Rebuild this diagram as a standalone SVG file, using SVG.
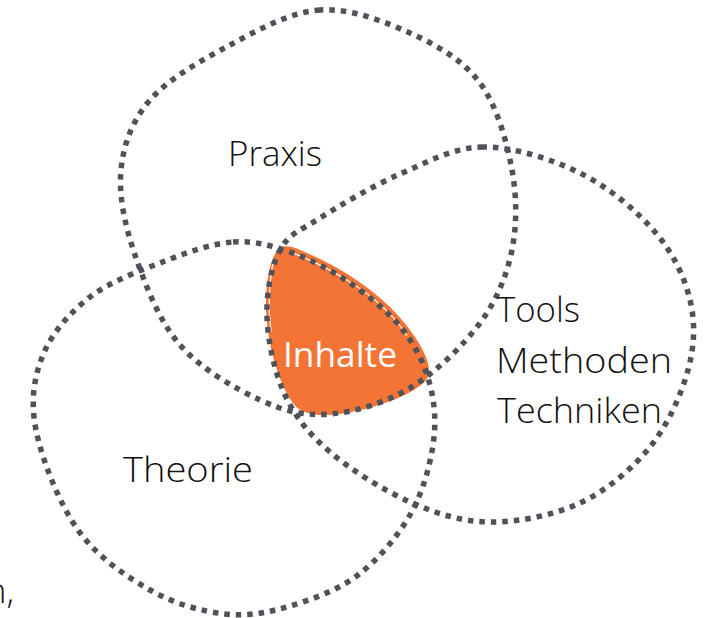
<svg xmlns="http://www.w3.org/2000/svg" width="710" height="618" viewBox="0 0 710 618">
<style>
.blob{fill:none;stroke:#4f5258;stroke-width:5.5;stroke-dasharray:5.5 6}
.lbl{font-family:"Open Sans","Noto Sans","Liberation Sans",sans-serif;font-weight:300;font-size:35px;fill:#111}
.in{font-family:"Open Sans","Noto Sans","Liberation Sans",sans-serif;font-weight:400;font-size:35px;fill:#fff}
</style>
<rect width="710" height="618" fill="#fff"/>
<g id="node-inhalte">
<path d="M 278,250 C 282,244 292,246 300,250 C 340,266 385,295 410,330 C 425,350 432,368 428,377 C 420,392 380,408 340,414 C 318,417 300,414 293,403 C 280,385 268,350 266,310 C 265,285 270,258 278,250 Z" fill="#f37435"/>
<path d="M 273,262 C 269,285 268,310 271,332" fill="none" stroke="#fff" stroke-width="1.2"/>
<path d="M 293,253 C 340,272 385,300 407,336" fill="none" stroke="#fff" stroke-width="1.2"/>
</g>
<g id="node-praxis">
<path class="blob" d="M 320,10 C 290,12 258,30 230,45 C 202,60 168,79 150,100 C 132,121 123.5,144 121,170 C 118.5,196 125,226 135,255 C 145,284 159,321 180,345 C 201,369 235,388.5 260,400 C 285,411.5 305,416 330,414 C 355,412 385,403 410,388 C 435,373 463,346 480,323 C 497,300 506.7,275.5 512,250 C 517,224.5 517,198 512,170 C 507,142 497,106 480,83 C 463,60 436.7,45 410,33 C 383,21 350,8 320,10 Z"/>
<text class="lbl" x="228" y="166" textLength="94" lengthAdjust="spacingAndGlyphs">Praxis</text>
</g>
<g id="node-tools">
<path class="blob" d="M 483,147 C 453,147.2 427.2,162.2 400,174 C 372.8,185.8 340,205.3 320,218 C 300,230.7 288.8,233.5 280,250 C 271.2,266.5 266.2,292.8 267,317 C 267.8,341.2 274.5,372.5 285,395 C 295.5,417.5 309.2,434.2 330,452 C 350.8,469.8 383.3,490.3 410,502 C 436.7,513.7 461.7,521.8 490,522 C 518.3,522.2 553.3,515.5 580,503 C 606.7,490.5 632,469.2 650,447 C 668,424.8 681.3,394.5 688,370 C 694.7,345.5 695.5,323 690,300 C 684.5,277 673.3,253.2 655,232 C 636.7,210.8 608.7,187.2 580,173 C 551.3,158.8 513,146.8 483,147 Z"/>
<text class="lbl" x="497" y="322" textLength="83" lengthAdjust="spacingAndGlyphs">Tools</text>
<text class="lbl" x="496" y="373" textLength="176" lengthAdjust="spacingAndGlyphs">Methoden</text>
<text class="lbl" x="497" y="423" textLength="165" lengthAdjust="spacingAndGlyphs">Techniken</text>
</g>
<g id="node-theorie">
<path class="blob" d="M 233,242 C 253.8,240.5 270.5,245.2 290,252 C 309.5,258.8 331.2,270 350,283 C 368.8,296 389.7,313 403,330 C 416.3,347 425,365.8 430,385 C 435,404.2 436.3,423.3 433,445 C 429.7,466.7 422.5,493.3 410,515 C 397.5,536.7 378,559.8 358,575 C 338,590.2 312.2,599.5 290,606 C 267.8,612.5 248.3,616.7 225,614 C 201.7,611.3 174.5,604 150,590 C 125.5,576 97,556.7 78,530 C 59,503.3 41.8,459.2 36,430 C 30.2,400.8 34,377.2 43,355 C 52,332.8 69.7,312.7 90,297 C 110.3,281.3 141.2,270.2 165,261 C 188.8,251.8 212.2,243.5 233,242 Z"/>
<text class="lbl" x="123" y="482" textLength="130" lengthAdjust="spacingAndGlyphs">Theorie</text>
</g>
<text class="in" x="283" y="367" textLength="114" lengthAdjust="spacingAndGlyphs">Inhalte</text>
<text class="lbl" x="14" y="603" text-anchor="end">n,</text>
</svg>
